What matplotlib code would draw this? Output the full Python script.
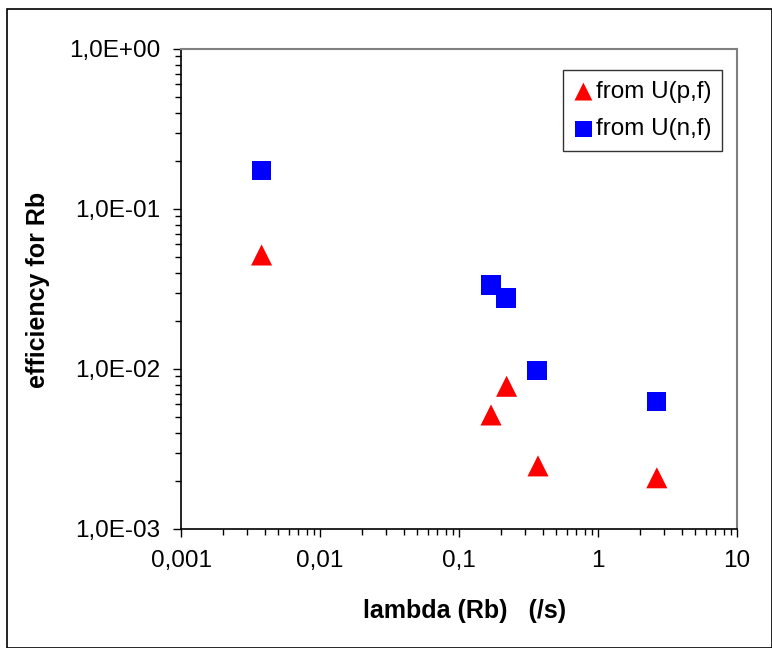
import matplotlib
matplotlib.use("Agg")
import matplotlib.pyplot as plt
from matplotlib.ticker import FixedLocator, FixedFormatter, LogLocator, NullFormatter
from matplotlib.patches import Rectangle

plt.rcParams['font.family'] = ['Liberation Sans', 'DejaVu Sans']

# Data
lam_pf = [0.0038, 0.17, 0.22, 0.37, 2.65]
eff_pf = [0.0516, 0.00516, 0.0078, 0.00248, 0.00209]
lam_nf = [0.0038, 0.17, 0.218, 0.364, 2.64]
eff_nf = [0.175, 0.0335, 0.0278, 0.00976, 0.00625]

xticks = [0.001, 0.01, 0.1, 1, 10]
xticklabels = ["0,001", "0,01", "0,1", "1", "10"]
yticks = [1e-3, 1e-2, 1e-1, 1e0]
yticklabels = ["1,0E-03", "1,0E-02", "1,0E-01", "1,0E+00"]

W, H = 772, 648
fig = plt.figure(figsize=(W / 100, H / 100), dpi=100)
ax = fig.add_axes([181 / W, 1 - 529 / H, (737 - 181) / W, (529 - 49) / H])

ax.scatter(lam_pf, eff_pf, marker='^', s=230, color='#ff0000', edgecolors='none',
           label='from U(p,f)', zorder=3)
ax.scatter(lam_nf, eff_nf, marker='s', s=190, color='#0000ff', edgecolors='none',
           label='from U(n,f)', zorder=3)

ax.set_xscale('log')
ax.set_yscale('log')
ax.set_xlim(0.001, 10)
ax.set_ylim(1e-3, 1)

ax.xaxis.set_major_locator(FixedLocator(xticks))
ax.xaxis.set_major_formatter(FixedFormatter(xticklabels))
ax.yaxis.set_major_locator(FixedLocator(yticks))
ax.yaxis.set_major_formatter(FixedFormatter(yticklabels))
ax.xaxis.set_minor_locator(LogLocator(base=10, subs=range(2, 10)))
ax.yaxis.set_minor_locator(LogLocator(base=10, subs=range(2, 10)))
ax.xaxis.set_minor_formatter(NullFormatter())
ax.yaxis.set_minor_formatter(NullFormatter())

ax.tick_params(axis='both', which='major', direction='out', length=6, width=1,
               labelsize=17.5, color='black')
ax.tick_params(axis='both', which='minor', direction='out', length=4, width=1,
               color='black')
ax.tick_params(axis='x', which='major', pad=9)
ax.tick_params(axis='y', which='major', pad=9)

for s in ['top', 'right']:
    ax.spines[s].set_color('#808080')
    ax.spines[s].set_linewidth(1.5)
for s in ['left', 'bottom']:
    ax.spines[s].set_color('black')
    ax.spines[s].set_linewidth(1.2)

ax.set_xlabel('lambda (Rb)   (/s)', fontsize=18, fontweight='bold')
ax.set_ylabel('efficiency for Rb', fontsize=18, fontweight='bold')
ax.xaxis.set_label_coords(465 / W, 1 - 611 / H, transform=fig.transFigure)
ax.yaxis.set_label_coords(38 / W, 1 - 290 / H, transform=fig.transFigure)
ax.xaxis.label.set_va('center')
ax.yaxis.label.set_va('center')

leg = ax.legend(loc='upper right', bbox_to_anchor=(722 / W, 1 - 70 / H),
                bbox_transform=fig.transFigure, frameon=True, fancybox=False,
                edgecolor='black', fontsize=17.5, handletextpad=0.1,
                borderpad=0.45, labelspacing=0.62, handlelength=0.8,
                markerscale=0.85, borderaxespad=0)
leg.get_frame().set_linewidth(1.0)

fig.patches.append(Rectangle((7 / W, 0), 1 - 7 / W - 0.5 / W, 1 - 9 / H,
                             transform=fig.transFigure, fill=False,
                             edgecolor='black', linewidth=1.2))

fig.savefig('out.png', dpi=100, facecolor='white')
